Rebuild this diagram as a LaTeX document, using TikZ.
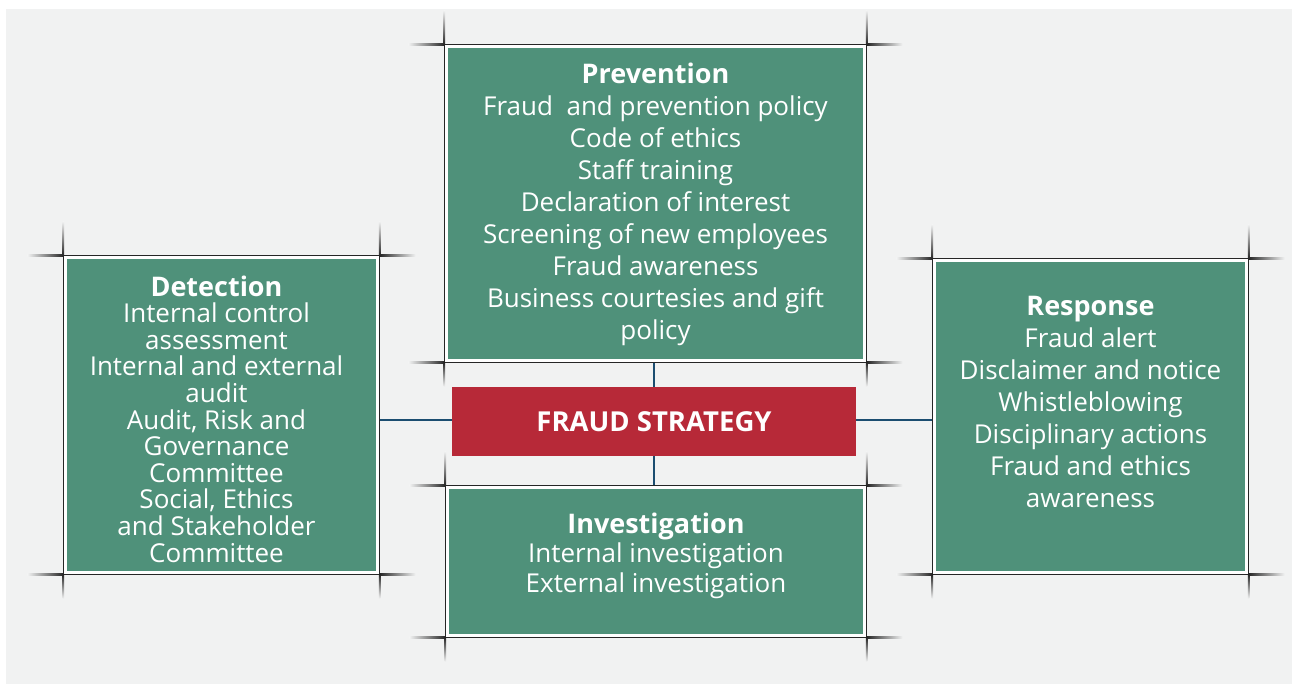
\documentclass[tikz,border=0pt]{standalone}
\usepackage{fontspec}
\setmainfont{Open Sans}
\usepackage{xcolor}
\usetikzlibrary{positioning,fit}

\definecolor{bggray}{HTML}{F1F2F2}
\definecolor{boxgreen}{HTML}{4F917A}
\definecolor{corered}{HTML}{B72938}
\definecolor{linkblue}{HTML}{1B4D70}
\definecolor{framedark}{HTML}{262626}

\newcommand{\paneltitle}[1]{{\fontsize{27}{32}\selectfont\bfseries #1}}

% fading tails that run past the four corners of a frame
\newcommand{\crossmarks}[1]{%
  \shade[left color=bggray, right color=framedark] ([xshift=-36pt,yshift=-0.8pt]#1.north west) rectangle ([yshift=0.8pt]#1.north west);
  \shade[left color=bggray, right color=framedark] ([xshift=-36pt,yshift=-0.8pt]#1.south west) rectangle ([yshift=0.8pt]#1.south west);
  \shade[left color=framedark, right color=bggray] ([yshift=-0.8pt]#1.north east) rectangle ([xshift=36pt,yshift=0.8pt]#1.north east);
  \shade[left color=framedark, right color=bggray] ([yshift=-0.8pt]#1.south east) rectangle ([xshift=36pt,yshift=0.8pt]#1.south east);
  \shade[top color=bggray, bottom color=framedark] ([xshift=-0.8pt]#1.north west) rectangle ([xshift=0.8pt,yshift=34pt]#1.north west);
  \shade[top color=bggray, bottom color=framedark] ([xshift=-0.8pt]#1.north east) rectangle ([xshift=0.8pt,yshift=34pt]#1.north east);
  \shade[top color=framedark, bottom color=bggray] ([xshift=-0.8pt,yshift=-24pt]#1.south west) rectangle ([xshift=0.8pt]#1.south west);
  \shade[top color=framedark, bottom color=bggray] ([xshift=-0.8pt,yshift=-24pt]#1.south east) rectangle ([xshift=0.8pt]#1.south east);
}

\begin{document}
\begin{tikzpicture}[
    x=1pt, y=1pt,
    panel/.style={fill=boxgreen, inner sep=0pt, outer sep=0pt,
                  preaction={draw=white, line width=7.2pt}},
    frame/.style={draw=framedark, line width=1.6pt, inner sep=3.6pt, outer sep=0pt},
    txt/.style={text=white, align=center, font=\fontsize{26}{32}\selectfont},
    core/.style={fill=corered, text=white, minimum width=404pt, minimum height=69pt,
                 font=\fontsize{27.5}{30}\selectfont\bfseries},
    link/.style={draw=linkblue, line width=2.4pt}
]
\useasboundingbox (0,0) rectangle (1292,684);
\fill[bggray] (6,0) rectangle (1292,675);

% the four panels
\node[panel, minimum width=415pt, minimum height=311pt] (prev) at (655.5,480.5) {};
\node[panel, minimum width=309pt, minimum height=312pt] (detect) at (221.5,269) {};
\node[panel, minimum width=414pt, minimum height=145pt] (invest) at (656,122.5) {};
\node[panel, minimum width=309pt, minimum height=309pt] (resp) at (1090.5,267.5) {};

% frames round them
\node[frame, fit=(prev)] (prevf) {};
\node[frame, fit=(detect)] (detectf) {};
\node[frame, fit=(invest)] (investf) {};
\node[frame, fit=(resp)] (respf) {};
\crossmarks{prevf}
\crossmarks{detectf}
\crossmarks{investf}
\crossmarks{respf}

% texts
\node[txt] (prevtxt) at ([yshift=-1pt]prev.center) {\paneltitle{Prevention}\\Fraud~ and prevention policy\\Code of ethics\\Staff training\\Declaration of interest\\Screening of new employees\\Fraud awareness\\Business courtesies and gift\\policy};
\node[txt, font=\fontsize{26}{26.6}\selectfont] (detecttxt) at ([xshift=-5pt,yshift=-4pt]detect.center) {\paneltitle{Detection}\\Internal control\\assessment\\Internal and external\\audit\\Audit, Risk and\\Governance\\Committee\\Social, Ethics\\and Stakeholder\\Committee};
\node[txt, font=\fontsize{26}{29.5}\selectfont] (investtxt) at ([yshift=6pt]invest.center) {\paneltitle{Investigation}\\Internal investigation\\External investigation};
\node[txt] (resptxt) at ([yshift=15pt]resp.center) {\paneltitle{Response}\\Fraud alert\\Disclaimer and notice\\Whistleblowing\\Disciplinary actions\\Fraud and ethics\\awareness};

% centre
\node[core] (strategy) at (654,262.5) {FRAUD STRATEGY};

% links
\draw[link] (strategy.north |- prevf.south) -- (strategy.north);
\draw[link] (strategy.south) -- (strategy.south |- investf.north);
\draw[link] (detectf.east |- 0,264) -- (strategy.west |- 0,264);
\draw[link] (strategy.east |- 0,264) -- (respf.west |- 0,264);
\end{tikzpicture}
\end{document}
